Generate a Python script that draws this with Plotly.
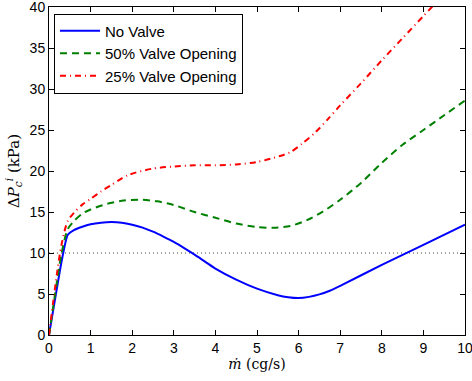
import plotly.graph_objects as go

x_blue = [0, 0.1, 0.2, 0.3, 0.45, 0.6, 0.8, 1.0, 1.25, 1.5, 1.75, 2.0, 2.25, 2.5, 2.75, 3.0, 3.25, 3.5, 3.75, 4.0, 4.5, 5.0, 5.5, 5.75, 6.0, 6.25, 6.5, 6.75, 7.0, 8.0, 9.0, 10]
y_blue = [0, 3.0, 6.0, 8.9, 12.2, 12.8, 13.2, 13.5, 13.7, 13.78, 13.7, 13.45, 13.1, 12.6, 12.0, 11.35, 10.6, 9.8, 8.95, 8.1, 6.75, 5.65, 4.85, 4.6, 4.5, 4.65, 4.95, 5.4, 6.0, 8.55, 11.0, 13.45]

x_green = [0, 0.1, 0.2, 0.3, 0.45, 0.6, 0.8, 1.0, 1.4, 1.8, 2.2, 2.6, 3.0, 3.5, 4.0, 4.5, 5.0, 5.4, 5.8, 6.2, 6.6, 7.0, 7.5, 8.0, 8.5, 9.0, 9.5, 10]
y_green = [0, 3.4, 6.8, 9.9, 12.9, 13.9, 14.8, 15.3, 16.0, 16.4, 16.5, 16.3, 15.85, 15.0, 14.3, 13.6, 13.17, 13.08, 13.3, 14.0, 15.1, 16.5, 18.55, 21.0, 23.2, 25.0, 26.8, 28.6]

x_red = [0, 0.1, 0.2, 0.3, 0.45, 0.6, 0.8, 1.0, 1.25, 1.5, 1.9, 2.5, 3.0, 3.5, 4.0, 4.5, 5.0, 5.4, 5.8, 6.1, 6.4, 6.7, 7.0, 7.5, 8.0, 8.5, 9.0, 9.5, 10]
y_red = [0, 4.0, 7.8, 11.0, 13.9, 14.9, 15.9, 16.6, 17.5, 18.3, 19.5, 20.3, 20.55, 20.7, 20.7, 20.8, 21.1, 21.6, 22.3, 23.4, 24.7, 26.3, 28.0, 30.7, 33.5, 36.2, 38.9, 41.6, 44.3]

x_ref = [0, 10]
y_ref = [10, 10]

x_ticks = list(range(0, 11))
y_ticks = list(range(0, 41, 5))

fig = go.Figure()
fig.add_trace(go.Scatter(x=x_ref, y=y_ref, mode="lines", showlegend=False,
                         line=dict(color="#444444", width=1.2, dash="1px,3px")))
fig.add_trace(go.Scatter(x=x_blue, y=y_blue, mode="lines", name="No Valve",
                         line=dict(color="#0000ff", width=2, shape="spline", smoothing=0.6)))
fig.add_trace(go.Scatter(x=x_green, y=y_green, mode="lines", name="50% Valve Opening",
                         line=dict(color="#008000", width=2, dash="7px,5px", shape="spline", smoothing=0.8)))
fig.add_trace(go.Scatter(x=x_red, y=y_red, mode="lines", name="25% Valve Opening",
                         line=dict(color="#ff0000", width=2, dash="6px,4px,1px,4px", shape="spline", smoothing=0.8)))

axis_common = dict(showgrid=False, zeroline=False, showline=True, linecolor="black",
                   linewidth=1, mirror="ticks", ticks="inside", ticklen=5,
                   tickcolor="black", ticklabeloverflow="allow", automargin=False,
                   tickfont=dict(family="Liberation Sans, Arial", size=14, color="black"))

fig.update_layout(
    width=472, height=381,
    margin=dict(l=49, r=7, t=7, b=46),
    plot_bgcolor="white", paper_bgcolor="white",
    xaxis=dict(range=[0, 10], tickvals=x_ticks,
               title=dict(text="<i>ṁ</i> (cg/s)", standoff=4,
                          font=dict(family="DejaVu Serif, Liberation Serif", size=14, color="black")),
               **axis_common),
    yaxis=dict(range=[0, 40], tickvals=y_ticks,
               title=dict(text="Δ<i>P</i><sub><i>c</i></sub><sup><i>i</i></sup> (kPa)", standoff=6,
                          font=dict(family="DejaVu Serif, Liberation Serif", size=15, color="black")),
               **axis_common),
    legend=dict(x=0.012, y=0.98, xanchor="left", yanchor="top",
                bgcolor="white", bordercolor="black", borderwidth=1,
                font=dict(family="Liberation Sans, Arial", size=15, color="black"),
                tracegroupgap=0, itemwidth=40),
)

fig.write_html("out.html")
